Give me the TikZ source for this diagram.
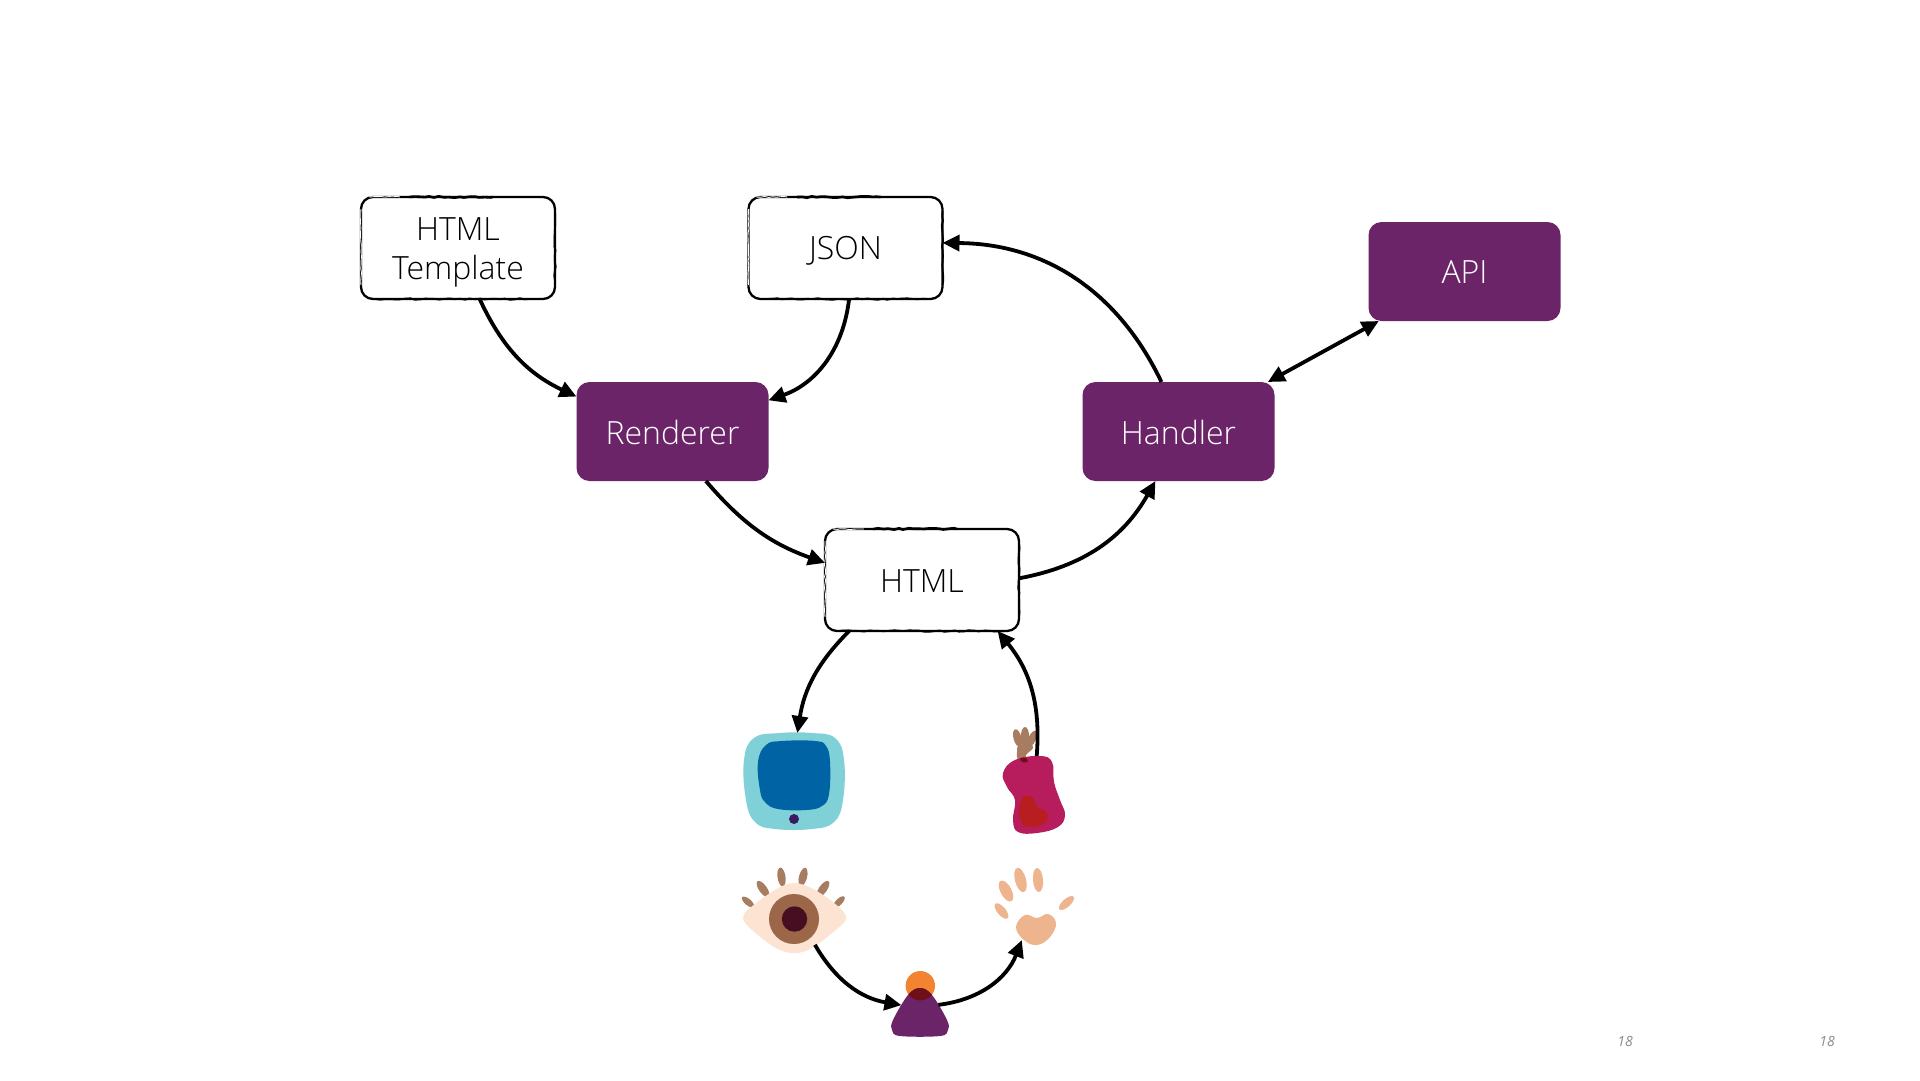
\documentclass[tikz,border=0pt]{standalone}
\usepackage{fontspec}
\setmainfont{Open Sans Light}
\newfontfamily\pagefont{Open Sans}
\usetikzlibrary{arrows.meta,calc,decorations.pathmorphing,shapes.geometric}
\definecolor{plum}{HTML}{6A2467}
\definecolor{tabletrim}{HTML}{80D0D8}
\definecolor{tabletglass}{HTML}{0063A3}
\definecolor{tabletdot}{HTML}{3A1A63}
\definecolor{eyeskin}{HTML}{FCE3D2}
\definecolor{eyeiris}{HTML}{9C6649}
\definecolor{eyepupil}{HTML}{470D21}
\definecolor{lashbrown}{HTML}{A87C60}
\definecolor{applered}{HTML}{B71C5C}
\definecolor{applecore}{HTML}{B81E20}
\definecolor{handskin}{HTML}{EDB48E}
\definecolor{headorange}{HTML}{F28330}
\definecolor{headshade}{HTML}{6F1018}
\newcommand{\blob}[5]{\fill[#1,shift={(#2,#3)},rotate=#4] (0,0) ellipse [#5];}
\newcommand{\lowered}[2]{\raisebox{-#1pt}[\height][\depth]{#2}}
\pgfmathsetseed{18}
\begin{document}
\begin{tikzpicture}[x=1pt,y=-1pt,
    sketchbox/.style ={rectangle, draw=black, line width=2.3pt, rounded corners=12pt, fill=white, text=black,
      align=center, font=\fontsize{32}{39}\selectfont, outer sep=0pt, minimum width=194pt, minimum height=102pt},
    roughedge/.style ={black, line width=1.8pt, decorate, decoration={random steps, segment length=5pt, amplitude=.8pt}},
    fadededge/.style ={white, line width=.9pt, decorate, decoration={random steps, segment length=4pt, amplitude=.6pt}},
    solidbox/.style ={rectangle, fill=plum, rounded corners=13pt, text=white,
      font=\fontsize{32}{39}\selectfont, outer sep=0pt, minimum width=192pt, minimum height=99pt},
    flow/.style ={-{Triangle[length=17pt,width=16pt]}, line width=3.8pt, black},
    pagenum/.style ={text=black!45, font=\pagefont\itshape\fontsize{14}{16}\selectfont, inner sep=0pt}]
   \path[fill=white] (0,0) rectangle (1920,1080);
   \useasboundingbox (0,0) rectangle (1920,1080);

   \node[sketchbox] (tpl) at (458,248) {\lowered{4}{HTML}\\\lowered{4}{Template}};
   \node[sketchbox] (json) at (845.5,248) {\lowered{2.5}{JSON}};
   \node[sketchbox] (html) at (922,580) {\lowered{.7}{HTML}};
   \node[solidbox] (renderer) at (672.5,431.5) {\lowered{1.2}{Renderer}};
   \node[solidbox] (handler) at (1178.5,431.5) {\lowered{1.2}{Handler}};
   \node[solidbox] (api) at (1464.5,271.5) {\lowered{1}{API}};

   % rough ink on the white boxes
   \foreach \b in {tpl,json,html} {
     \draw[roughedge, line width=2.6pt] ($(\b.north west)!.25!(\b.north east)$) -- ($(\b.north west)!.68!(\b.north east)$);
     \draw[roughedge] ($(\b.north east)+(0,14)$) -- ($(\b.south east)+(0,-14)$);
     \draw[roughedge] ($(\b.south west)+(14,0)$) -- ($(\b.south east)+(-14,0)$);
     \draw[fadededge] ($(\b.north west)+(0,12)$) -- ($(\b.south west)+(0,-14)$);
     \draw[fadededge] ($(\b.north west)+(8,0)$) -- ($(\b.north west)!.2!(\b.north east)$);
   }

   % hooks for the icons
   \node[rectangle, outer sep=0pt, minimum width=100pt, minimum height=96pt] (tablet) at (794,781) {};
   \node[rectangle, outer sep=0pt, minimum width=62pt, minimum height=77pt] (apple) at (1034,794.5) {};
   \node[circle, outer sep=0pt, inner sep=0pt, minimum size=68pt] (eye) at (794,918) {};
   \node[circle, outer sep=0pt, inner sep=0pt, minimum size=42pt] (person) at (920,1015) {};
   \node[circle, outer sep=0pt, inner sep=0pt, minimum size=36pt] (hand) at (1036,929) {};

   % tablet
   \fill[tabletrim] plot[smooth cycle, tension=.7] coordinates {(744,760) (754,738) (780,733) (812,733) (835,738) (844,760) (843,800) (834,822) (812,829) (775,829) (755,822) (746,800)};
   \fill[tabletglass] plot[smooth cycle, tension=.7] coordinates {(758,762) (766,745) (782,741) (815,741) (826,746) (830,762) (829,794) (822,806) (806,810) (778,809) (765,802) (760,790)};
   \fill[tabletdot] (794,819) circle (5);

   % eye
   \blob{lashbrown}{748}{902}{-40}{x radius=7.5,y radius=3.2}
   \blob{lashbrown}{763}{889}{-55}{x radius=9.5,y radius=4}
   \blob{lashbrown}{781.5}{877}{-82}{x radius=9.5,y radius=4}
   \blob{lashbrown}{803}{877}{75}{x radius=9.5,y radius=4}
   \blob{lashbrown}{823}{889}{55}{x radius=9.5,y radius=4}
   \blob{lashbrown}{839}{902}{45}{x radius=7.5,y radius=3.2}
   \fill[eyeskin] plot[smooth cycle, tension=.6] coordinates {(743,918) (750,908) (775,890) (794,883) (815,890) (840,908) (846,919) (838,928) (812,948) (794,953) (776,948) (752,930)};
   \fill[eyeiris] (794,919) circle (25);
   \fill[eyepupil] (794.5,919) circle (12.7);

   % apple and finger
   \blob{lashbrown}{1017.5}{738}{105}{x radius=9,y radius=4}
   \blob{lashbrown}{1025}{737}{90}{x radius=10,y radius=4.2}
   \blob{lashbrown}{1032}{739}{65}{x radius=9,y radius=3.8}
   \fill[lashbrown] plot[smooth cycle, tension=.7] coordinates {(1019,745) (1030,745) (1033,748) (1026,755) (1025,760) (1018,760) (1017,752)};
   \fill[applered] plot[smooth cycle, tension=.7] coordinates {(1003,773) (1015,760) (1040,756) (1052,762) (1054,782) (1060,800) (1065,815) (1058,827) (1037,833) (1018,832) (1013,820) (1015,800) (1007,787)};
   \fill[applecore] plot[smooth cycle, tension=.7] coordinates {(1019,810) (1023,797) (1032,797) (1038,807) (1047,813) (1045,823) (1030,827) (1022,823)};
   \blob{headshade}{1024}{760}{-15}{x radius=4,y radius=2.4}

   % hand
   \fill[handskin] plot[smooth cycle, tension=.7] coordinates {(1016,927) (1025,915) (1037,918) (1048,914) (1056,923) (1050,937) (1037,945) (1024,940)};
   \blob{handskin}{1001.5}{911}{-50}{x radius=9.5,y radius=4.2}
   \blob{handskin}{1006}{891}{-62}{x radius=11.5,y radius=5.5}
   \blob{handskin}{1020.5}{880}{-75}{x radius=12.5,y radius=5.5}
   \blob{handskin}{1038}{880}{-85}{x radius=12,y radius=5}
   \blob{handskin}{1066.5}{903}{42}{x radius=9.5,y radius=4}

   % person
   \fill[headorange] (920.3,985.7) circle (14.7);
   \fill[plum] plot[smooth cycle, tension=.6] coordinates {(920,988) (932,995) (947,1020) (948,1030) (940,1036) (900,1036) (892,1030) (893,1020) (908,995)};
   \begin{scope}
     \clip plot[smooth cycle, tension=.6] coordinates {(920,988) (932,995) (947,1020) (948,1030) (940,1036) (900,1036) (892,1030) (893,1020) (908,995)};
     \fill[headshade] (920.3,985.7) circle (14.7);
   \end{scope}

   \draw[flow] (tpl.-67) to[bend right=20] (renderer.160.7);
   \draw[flow] (json.-86) to[bend left=32] (renderer.18.6);
   \draw[flow] (handler.109.5) to[bend right=32] (json.3);
   \draw[flow] (renderer.-56.7) to[bend right=15] (html.170);
   \draw[flow] (html.1.8) to[bend right=25] (handler.-115.4);
   \draw[flow,{Triangle[length=17pt,width=16pt]}-{Triangle[length=17pt,width=16pt]}] (handler.29) to (api.-150);
   \draw[flow] (html.-145.4) to[bend right=18] (tablet.86.4);
   \draw[flow] (apple.86) to[bend right=22] (html.-34.2);
   \draw[flow] (eye.-52) to[bend right=25] (person.152.6);
   \draw[flow] (person.29) to[bend right=31] (hand.-142);

   \node[pagenum] (pageleft) at (1625,1041) {18};
   \node[pagenum] (pageright) at (1827,1041) {18};
 \end{tikzpicture}
\end{document}
